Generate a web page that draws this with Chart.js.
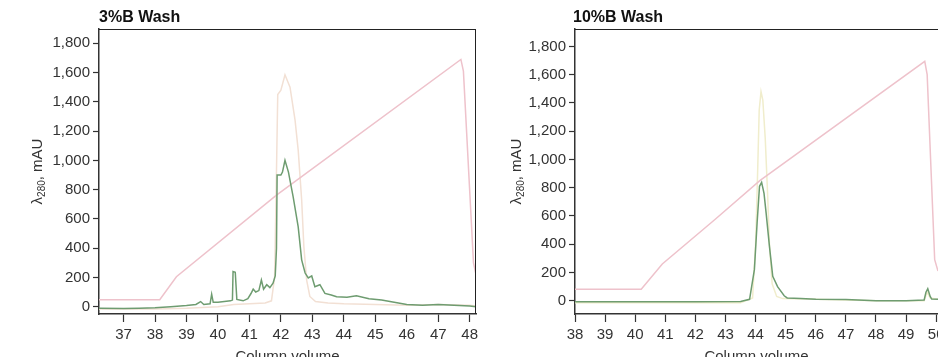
<!DOCTYPE html>
<html>
<head>
<meta charset="utf-8">
<title>Wash chromatograms</title>
<script src="https://cdn.jsdelivr.net/npm/chart.js@4.4.1/dist/chart.umd.min.js"></script>
<style>
  html, body { margin: 0; padding: 0; background: #fff; width: 938px; height: 357px; overflow: hidden; }
  canvas { position: absolute; top: 0; }
  #wash3 { left: 0; }
  #wash10 { left: 478px; }
</style>
</head>
<body>
<canvas id="wash3" width="478" height="372"></canvas>
<canvas id="wash10" width="460" height="372"></canvas>
<script>
// ---- 3%B wash ----
const wash3UvX   = [36.22, 37, 37.5, 38, 38.5, 39, 39.3, 39.45, 39.55, 39.75, 39.8, 39.85, 40.0, 40.2, 40.4, 40.46, 40.48, 40.55, 40.6, 40.8, 40.95, 41.05, 41.12, 41.2, 41.3, 41.38, 41.45, 41.55, 41.65, 41.75, 41.82, 41.86, 41.88, 42.0, 42.05, 42.13, 42.24, 42.39, 42.55, 42.66, 42.77, 42.87, 42.98, 43.08, 43.24, 43.4, 43.6, 43.77, 44.1, 44.4, 44.8, 45.2, 45.6, 46, 46.5, 47, 47.5, 48, 48.2];
const wash3UvY   = [-10, -12, -10, -8, 0, 8, 15, 35, 15, 20, 85, 30, 30, 35, 40, 45, 240, 235, 50, 40, 55, 90, 120, 100, 110, 182, 120, 150, 130, 160, 210, 400, 900, 900, 920, 1000, 920, 750, 545, 320, 230, 196, 210, 137, 150, 91, 80, 68, 65, 75, 55, 45, 30, 15, 10, 15, 10, 5, 0];
const wash3Uv2X  = [36.22, 38, 39, 40, 40.5, 41, 41.5, 41.7, 41.8, 41.85, 41.9, 42.0, 42.13, 42.29, 42.45, 42.55, 42.66, 42.73, 42.82, 42.92, 43.1, 43.5, 44, 45, 46, 47, 48, 48.2];
const wash3Uv2Y  = [-15, -15, -10, 0, 15, 20, 25, 40, 200, 800, 1450, 1480, 1585, 1500, 1275, 1070, 730, 410, 180, 70, 35, 25, 20, 15, 10, 15, 10, 5];
const wash3CondX = [36.22, 38.15, 38.68, 41.86, 47.72, 47.8, 48.12, 48.2];
const wash3CondY = [48, 48, 205, 762, 1690, 1610, 300, 220];

// ---- 10%B wash ----
const wash10UvX   = [38, 40, 42, 43.5, 43.8, 43.96, 44.05, 44.13, 44.2, 44.28, 44.35, 44.46, 44.57, 44.73, 44.95, 45.05, 45.5, 46, 47, 48, 49, 49.6, 49.66, 49.72, 49.8, 49.85, 50.06];
const wash10UvY   = [-8, -8, -8, -5, 10, 220, 550, 810, 837, 760, 620, 385, 172, 100, 35, 20, 15, 10, 8, 0, 0, 5, 60, 85, 30, 12, 10];
const wash10Uv2X  = [38, 43.5, 43.9, 44.0, 44.07, 44.12, 44.18, 44.24, 44.32, 44.4, 44.46, 44.55, 44.7, 44.9, 46, 48, 49.6, 49.7, 49.8, 50.06];
const wash10Uv2Y  = [-15, -15, 20, 400, 930, 1350, 1480, 1420, 1150, 750, 400, 120, 30, 15, 10, 0, 0, 60, 20, 10];
const wash10CondX = [38, 40.2, 40.9, 42.64, 44.14, 49.62, 49.7, 49.95, 50.06];
const wash10CondY = [82, 82, 260, 573, 850, 1694, 1600, 290, 210];

// axis ticks
const wash3XTicks  = [37, 38, 39, 40, 41, 42, 43, 44, 45, 46, 47, 48];
const wash10XTicks = [38, 39, 40, 41, 42, 43, 44, 45, 46, 47, 48, 49, 50];
const yTicks = [0, 200, 400, 600, 800, 1000, 1200, 1400, 1600, 1800];

const FONT = '"Liberation Sans", Arial, Helvetica, sans-serif';
const zip = (xs, ys) => xs.map((x, i) => ({ x, y: ys[i] }));
const fmt = v => String(v).replace(/\B(?=(\d{3})+(?!\d))/g, ',');

// titles, axis captions and the top/right frame
const decorations = {
  id: 'decorations',
  afterDraw(chart, args, o) {
    const { ctx, chartArea: a } = chart;
    ctx.save();
    ctx.strokeStyle = '#222';
    ctx.lineWidth = 1;
    ctx.beginPath();
    ctx.moveTo(a.left, a.top + 0.5);
    ctx.lineTo(a.right, a.top + 0.5);
    if (o.rightFrame) {
      ctx.moveTo(a.right - 0.5, a.top);
      ctx.lineTo(a.right - 0.5, a.bottom);
    }
    ctx.stroke();

    ctx.fillStyle = '#111';
    ctx.textBaseline = 'alphabetic';
    ctx.font = 'bold 16px ' + FONT;
    ctx.textAlign = 'left';
    ctx.fillText(o.title, a.left + o.titleShift, 22);

    ctx.fillStyle = '#333';
    ctx.font = '15px ' + FONT;
    ctx.textAlign = 'center';
    ctx.fillText('Column volume', (a.left + a.right) / 2, 361);

    // λ280, mAU with subscript, rotated
    ctx.translate(o.yTitleX, (a.top + a.bottom) / 2);
    ctx.rotate(-Math.PI / 2);
    ctx.textAlign = 'left';
    const big = '15px ' + FONT, small = '10px ' + FONT;
    ctx.font = big;  const w1 = ctx.measureText('λ').width;
    ctx.font = small; const w2 = ctx.measureText('280').width;
    ctx.font = big;  const w3 = ctx.measureText(', mAU').width;
    let x = -(w1 + w2 + w3) / 2;
    ctx.font = big;  ctx.fillText('λ', x, 0); x += w1;
    ctx.font = small; ctx.fillText('280', x, 3); x += w2;
    ctx.font = big;  ctx.fillText(', mAU', x, 0);
    ctx.restore();
  }
};

function washChart(id, c) {
  const tickFont = { family: FONT, size: 15 };
  return new Chart(document.getElementById(id), {
    type: 'line',
    data: {
      datasets: [
        { data: zip(c.uvX, c.uvY), borderColor: '#6e9c70', borderWidth: 1.5, order: 0 },
        { data: zip(c.condX, c.condY), borderColor: '#eec2cb', borderWidth: 1.5, order: 1 },
        { data: zip(c.uv2X, c.uv2Y), borderColor: c.uv2Color, borderWidth: 1.5, order: 2 }
      ]
    },
    plugins: [decorations],
    options: {
      responsive: false,
      animation: false,
      events: [],
      elements: { point: { radius: 0 }, line: { tension: 0 } },
      layout: { padding: { top: 29, right: c.padRight, left: 0, bottom: 0 } },
      plugins: {
        legend: { display: false },
        tooltip: { enabled: false },
        decorations: { title: c.title, titleShift: c.titleShift, yTitleX: c.yTitleX, rightFrame: c.rightFrame }
      },
      scales: {
        x: {
          type: 'linear', min: c.xMin, max: c.xMax,
          afterBuildTicks: s => { s.ticks = c.xTicks.map(v => ({ value: v })); },
          afterFit: s => { s.height = 58; s.paddingLeft = 0; s.paddingRight = 0; },
          grid: { drawOnChartArea: false, tickLength: 8, color: '#333', tickWidth: 1.2 },
          border: { color: '#333', width: 1.5 },
          ticks: { font: tickFont, color: '#333', padding: 4, maxRotation: 0, autoSkip: false }
        },
        y: {
          min: c.yMin, max: c.yMax,
          afterBuildTicks: s => { s.ticks = yTicks.map(v => ({ value: v })); },
          afterFit: s => { s.width = c.yWidth; s.paddingTop = 0; s.paddingBottom = 0; },
          grid: { drawOnChartArea: false, tickLength: 6, color: '#333', tickWidth: 1.2 },
          border: { color: '#333', width: 1.5 },
          ticks: { font: tickFont, color: '#333', padding: 3, callback: v => fmt(v) }
        }
      }
    }
  });
}

washChart('wash3', {
  title: '3%B Wash', titleShift: 0, yTitleX: 42, rightFrame: true,
  uvX: wash3UvX, uvY: wash3UvY, uv2X: wash3Uv2X, uv2Y: wash3Uv2Y, condX: wash3CondX, condY: wash3CondY,
  uv2Color: '#f2e0d4',
  xMin: 36.22, xMax: 48.2, xTicks: wash3XTicks,
  yMin: -50, yMax: 1898, yWidth: 99, padRight: 2
});

washChart('wash10', {
  title: '10%B Wash', titleShift: -2, yTitleX: 43, rightFrame: false,
  uvX: wash10UvX, uvY: wash10UvY, uv2X: wash10Uv2X, uv2Y: wash10Uv2Y, condX: wash10CondX, condY: wash10CondY,
  uv2Color: '#f0edcc',
  xMin: 38, xMax: 50.06, xTicks: wash10XTicks,
  yMin: -94, yMax: 1923, yWidth: 97, padRight: 0
});
</script>
</body>
</html>
